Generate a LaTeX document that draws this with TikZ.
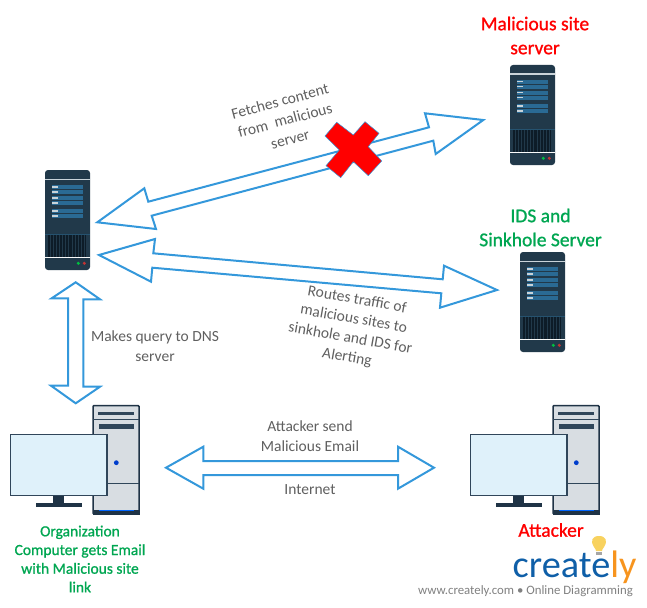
\documentclass[tikz,border=0pt]{standalone}
\usepackage{fontspec}
\setmainfont{Carlito}
\newfontfamily\medfont[FakeBold=1]{Carlito}
\definecolor{arrowblue}{HTML}{3498DB}
\definecolor{labelgray}{HTML}{5F5F5F}
\definecolor{okgreen}{HTML}{00A651}
\definecolor{srvbody}{HTML}{21394A}
\definecolor{srvslot}{HTML}{2A6A94}
\definecolor{srvline}{HTML}{C9D3D9}
\definecolor{srvgrille}{HTML}{0D1C28}
\definecolor{towerfill}{HTML}{D8DDE2}
\definecolor{pcdark}{HTML}{1F3346}
\definecolor{screenfill}{HTML}{DFF1FA}
\definecolor{screenedge}{HTML}{30465A}
\definecolor{logoblue}{HTML}{0F5FA8}
\definecolor{logoorange}{HTML}{F7941E}
\definecolor{bulb}{HTML}{F8D25F}
\tikzset{
  blockarrow/.style={draw=arrowblue,line width=2pt,fill=white,line join=miter},
  lbl/.style={text=labelgray,font=\fontsize{15.5}{19.5}\selectfont,align=center,inner sep=0pt},
  redtitle/.style={text=red,font=\medfont\fontsize{19.5}{24}\selectfont,align=center,inner sep=0pt},
  greentitle/.style={text=okgreen,font=\medfont\fontsize{19.5}{24}\selectfont,align=center,inner sep=0pt},
  server/.pic={
    \fill[srvbody,rounded corners=3pt] (0,0) rectangle (45,100);
    \fill[srvline] (0,8.5) rectangle (45,10);
    \foreach \a/\b in {15/19,20/24.3,26/30,31/35,39.3/43.3,44.3/48.3}{
      \fill[srvslot] (6.7,\a) rectangle (38.3,\b);
      \fill[srvline] (7.3,{\a+1}) rectangle (13.3,{\a+2.5});
    }
    \fill[srvslot!50!srvbody] (0,64) rectangle (45,64.8);
    \fill[srvgrille] (3.3,65) rectangle (41,87);
    \foreach \i in {0,...,11}{\fill[srvbody] ({4.8+\i*3.1},65) rectangle ({5.6+\i*3.1},87);}
    \fill[white!90!srvline] (0,87) rectangle (45,88);
    \fill[green!50!teal] (33.3,93.3) circle (1.7);
    \fill[red!70!black!80!white] (39.3,93.3) circle (1.7);
  },
  computer/.pic={
    \fill[towerfill] (93,405) rectangle (139,514);
    \draw[pcdark,line width=1.5pt,rounded corners=1pt] (93,405.5) rectangle (139,514);
    \fill[pcdark] (93,510) rectangle (139.5,514.5);
    \fill[blue!60!cyan] (99,509.5) rectangle (134,510.7);
    \draw[screenedge,line width=0.8pt] (93,419.3) -- (139,419.3) (93,483.3) -- (139,483.3);
    \fill[screenedge] (98.3,412.3) rectangle (134,415);
    \fill[screenedge] (98.7,424) rectangle (134,429.3);
    \fill[blue!70!cyan!80!black] (116.3,462.7) circle (2.4);
    \fill[pcdark] (53.3,495.7) rectangle (64.3,504);
    \fill[pcdark] (35.7,503.3) rectangle (82.3,507);
    \draw[screenedge,fill=screenfill,line width=1.5pt] (10.5,434.7) rectangle (107,495.5);
  }
}
\begin{document}
\begin{tikzpicture}[x=1pt,y=-1pt]
\useasboundingbox (0,0) rectangle (647,607);
% servers
\pic at (510,65) {server};
\pic at (45,170) {server};
\pic at (520,252) {server};
% computers
\pic at (0,0) {computer};
\pic at (460,0) {computer};
% block arrows
\draw[blockarrow] (483.3,120) -- (425,113.3) -- (429,127.3) -- (148.3,201.7) -- (144.3,188.3) -- (97.3,222.3) -- (156,229) -- (151.7,215.7) -- (433.3,140.7) -- (435.7,154) -- cycle;
\draw[blockarrow] (99,255) -- (155,239) -- (153.3,253.3) -- (442.7,279.3) -- (444,265.7) -- (497,290) -- (440,307.7) -- (441.3,293.3) -- (152.3,267.7) -- (151,281.7) -- cycle;
\draw[blockarrow] (75.7,282.3) -- (100,299.3) -- (83.3,299.3) -- (83.3,386.7) -- (100,386.7) -- (75.7,403.3) -- (51,385.7) -- (68,385.7) -- (68,298.3) -- (51.7,298.3) -- cycle;
\draw[blockarrow] (166,467.7) -- (203.3,446.7) -- (203.3,461) -- (398,461) -- (398,446.7) -- (434,467.7) -- (398,488.7) -- (398,475) -- (203.3,475) -- (203.3,488.7) -- cycle;
% red cross
\draw[arrowblue,fill=red,line width=0.5pt,line join=miter] (336.7,122.3) -- (353.3,135) -- (365,121.7) -- (379,133.3) -- (368.3,146.7) -- (381.7,161) -- (368.3,175.7) -- (353.3,161.7) -- (340.7,177.7) -- (326,165.7) -- (339.3,150) -- (325,136) -- cycle;
% labels
\node[redtitle] (mal) at (535,35.5) {Malicious site\\server};
\node[greentitle] (ids) at (540.5,227.5) {IDS and\\Sinkhole Server};
\node[lbl,rotate=15] (fetch) at (285,120) {Fetches content\\from\ \ malicious\\server};
\node[lbl,rotate=-10] (routes) at (352,329) {Routes traffic of\\malicious sites to\\sinkhole and IDS for\\Alerting};
\node[lbl] (query) at (155,346) {Makes query to DNS\\server};
\node[lbl] (send) at (310,436) {Attacker send\\Malicious Email};
\node[lbl] (inet) at (310,490) {Internet};
\node[text=okgreen,font=\medfont\fontsize{15.5}{18.7}\selectfont,align=center,inner sep=0pt] (org) at (80,559) {Organization\\Computer gets Email\\with Malicious site\\link};
\node[text=red,font=\medfont\fontsize{19.5}{20}\selectfont,inner sep=0pt] (att) at (551,530) {Attacker};
% logo
\node[text=logoblue,font=\fontsize{38.3}{39}\selectfont,inner sep=0pt,anchor=base west] (logo) at (512.5,577) {create\textcolor{logoorange}{ly}};
\fill[bulb] (594,547) .. controls (590,541) and (592,536) .. (599,536) .. controls (606,536) and (608,541) .. (604,547) .. controls (602.5,549) and (602,550) .. (602,551) -- (596,551) .. controls (596,550) and (595.5,549) .. (594,547) -- cycle;
\fill[gray!70] (596,551.5) rectangle (602,555);
\node[text=gray,font=\fontsize{12.8}{14}\selectfont,inner sep=0pt,anchor=east] (foot) at (633,591) {www.creately.com • Online Diagramming};
\end{tikzpicture}
\end{document}
